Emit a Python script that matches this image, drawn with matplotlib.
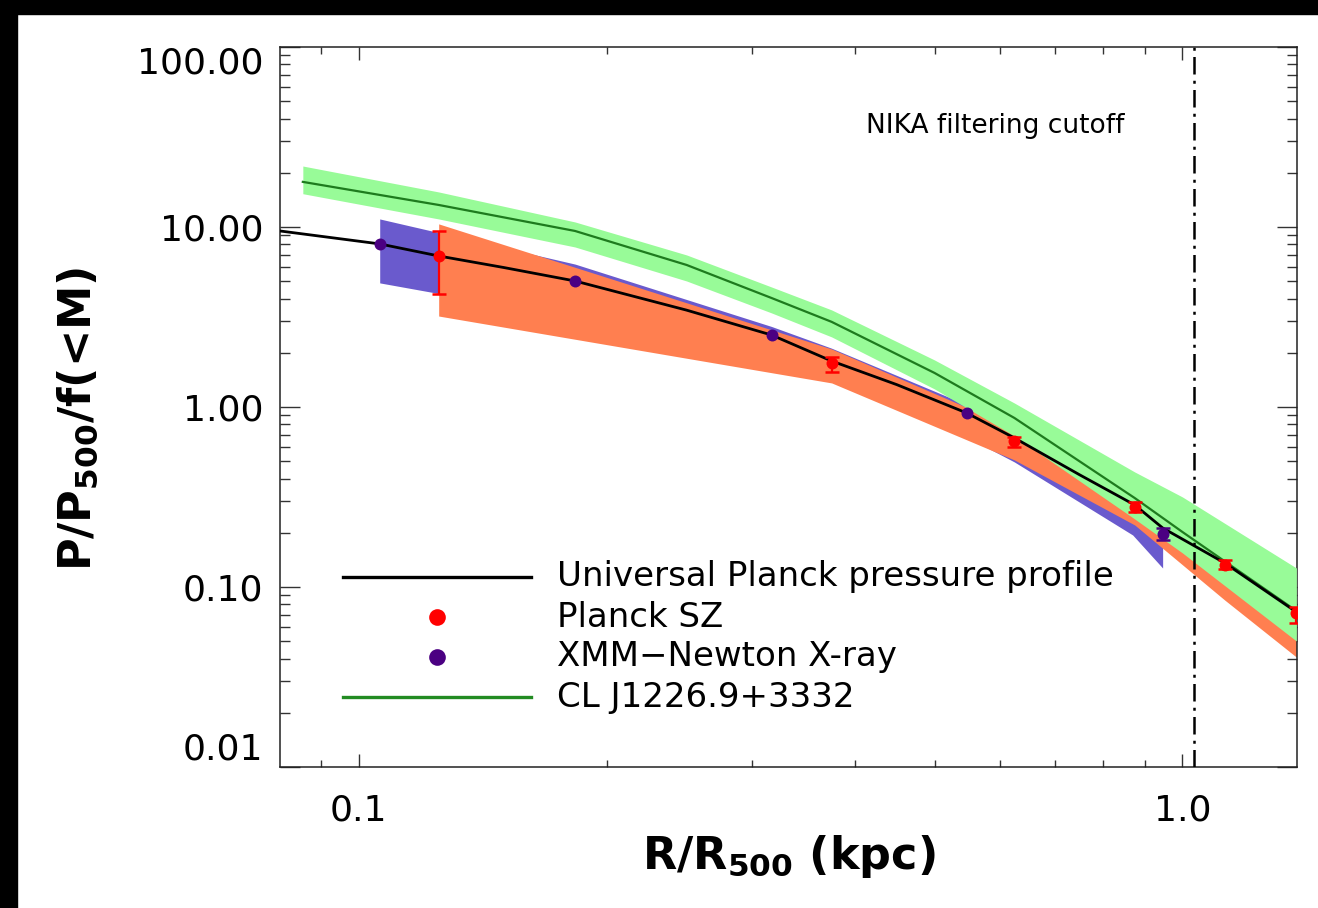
import matplotlib
matplotlib.use("Agg")
import matplotlib.pyplot as plt
import numpy as np
from matplotlib.patches import Rectangle
from matplotlib.ticker import FixedLocator, LogLocator, NullFormatter, FuncFormatter

plt.rcParams["font.family"] = ["DejaVu Sans"]

# universal Planck pressure profile (black curve)
model_r = [0.0802, 0.106, 0.125, 0.15, 0.183, 0.25, 0.317, 0.375, 0.45, 0.547, 0.625, 0.75, 0.875, 0.946, 1.125, 1.375]
model_p = [9.50, 8.05, 6.90, 5.95, 5.01, 3.45, 2.51, 1.80, 1.33, 0.926, 0.673, 0.42, 0.2855, 0.2128, 0.136, 0.0726]

# Planck SZ points + band
sz_r = [0.125, 0.375, 0.625, 0.875, 1.125, 1.375]
sz_p = [6.90, 1.756, 0.647, 0.278, 0.1325, 0.0717]
sz_lo = [4.24, 1.565, 0.599, 0.2595, 0.1254, 0.0632]
sz_hi = [9.50, 1.896, 0.679, 0.2976, 0.1413, 0.0774]
sz_band_hi = [10.4, 2.10, 0.764, 0.337, 0.1606, 0.0869]
sz_band_lo = [3.20, 1.36, 0.508, 0.221, 0.0847, 0.0408]

# XMM-Newton points + band
xmm_r = [0.106, 0.183, 0.317, 0.547, 0.946]
xmm_p = [8.05, 5.01, 2.51, 0.926, 0.197]
xmm_err = [np.nan, np.nan, np.nan, np.nan, 0.015]
xmm_band_r = [0.106, 0.183, 0.317, 0.375, 0.547, 0.625, 0.87, 0.946]
xmm_band_hi = [11.08, 6.22, 2.80, 2.12, 1.03, 0.745, 0.314, 0.2298]
xmm_band_lo = [4.89, 3.12, 1.647, 1.40, 0.681, 0.495, 0.1945, 0.1275]

# CL J1226.9+3332 profile + band
cl_r = [0.0855, 0.125, 0.183, 0.25, 0.317, 0.375, 0.5, 0.625, 0.875, 1.0, 1.375]
cl_p = [17.8, 13.25, 9.50, 6.15, 4.03, 2.97, 1.545, 0.869, 0.312, 0.202, 0.0736]
cl_hi = [21.8, 15.65, 10.66, 6.99, 4.64, 3.46, 1.824, 1.052, 0.4355, 0.3162, 0.1275]
cl_lo = [15.3, 11.08, 7.74, 5.01, 3.33, 2.45, 1.259, 0.690, 0.2386, 0.1545, 0.0501]

nika_cut = 1.034

fig = plt.figure(figsize=(13.18, 9.08), dpi=100)
ax = fig.add_axes([0.2124, 0.1553, 0.7716, 0.7930])

# black frame on top / left of the picture
fig.patches.append(Rectangle((0, 894 / 908), 1, 14 / 908, transform=fig.transFigure, color="k", zorder=0))
fig.patches.append(Rectangle((0, 0), 17 / 1318, 1, transform=fig.transFigure, color="k", zorder=0))

ax.fill_between(xmm_band_r, xmm_band_lo, xmm_band_hi, color="#6A5ACD", lw=0, zorder=1)
ax.fill_between(sz_r, sz_band_lo, sz_band_hi, color="#FF7F50", lw=0, zorder=2)
ax.fill_between(cl_r, cl_lo, cl_hi, color="#98FB98", lw=0, zorder=3)
ax.plot(cl_r, cl_p, color="#1E7B1E", lw=1.6, zorder=4)
ax.plot(model_r, model_p, color="k", lw=2.0, zorder=5)

sz_p = np.array(sz_p)
ax.errorbar(sz_r, sz_p, yerr=[sz_p - np.array(sz_lo), np.array(sz_hi) - sz_p],
            fmt="none", ecolor="red", elinewidth=1.6, capsize=4.7, capthick=1.8, zorder=6)
ax.plot(sz_r, sz_p, "o", color="red", ms=8.6, mec="none", zorder=7)
ax.errorbar(xmm_r, xmm_p, yerr=xmm_err, fmt="none", ecolor="#4B0082",
            elinewidth=1.6, capsize=4.7, capthick=1.8, zorder=6)
ax.plot(xmm_r, xmm_p, "o", color="#4B0082", ms=8.6, mec="none", zorder=7)

ax.axvline(nika_cut, color="k", lw=1.8, ls=(0, (7, 2.5, 1.2, 2.5)), zorder=8)
ax.text(0.576, 0.8806, "NIKA filtering cutoff", transform=ax.transAxes,
        fontsize=19, va="baseline", ha="left")

ax.set_xscale("log")
ax.set_yscale("log")
ax.set_xlim(0.0802, 1.377)
ax.set_ylim(0.01, 100)

ax.xaxis.set_major_locator(FixedLocator([0.1, 1.0]))
ax.xaxis.set_major_formatter(FuncFormatter(lambda v, p: "%.1f" % v))
ax.xaxis.set_minor_locator(LogLocator(base=10, subs=np.arange(2, 10)))
ax.xaxis.set_minor_formatter(NullFormatter())
ax.yaxis.set_major_locator(FixedLocator([0.01, 0.1, 1, 10, 100]))
ax.yaxis.set_major_formatter(FuncFormatter(lambda v, p: "%.2f" % v))
ax.yaxis.set_minor_locator(LogLocator(base=10, subs=np.arange(2, 10)))
ax.yaxis.set_minor_formatter(NullFormatter())

ax.tick_params(axis="both", which="both", direction="in", top=True, right=True,
               color="#333333", width=1.0)
ax.tick_params(axis="x", which="major", length=9.4, pad=19, labelsize=26)
ax.tick_params(axis="x", which="minor", length=5)
ax.tick_params(axis="y", which="major", length=14.4, pad=12, labelsize=26)
ax.tick_params(axis="y", which="minor", length=7.2)
for s in ax.spines.values():
    s.set_linewidth(1.1)
    s.set_color("#222222")

ylabels = ax.get_yticklabels()
ylabels[0].set_va("bottom")
ylabels[-1].set_va("top")

ax.set_xlabel(r"R/R$_\mathbf{500}$ (kpc)", fontsize=32, fontweight="bold")
ax.set_ylabel(r"P/P$_\mathbf{500}$/f(<M)", fontsize=32, fontweight="bold")
ax.xaxis.set_label_coords(0.5, -0.092)
ax.yaxis.set_label_coords(-0.177, 0.483)

# legend drawn by hand in axes coordinates
leg_y = [0.264, 0.208, 0.153, 0.097]
leg_txt = ["Universal Planck pressure profile", "Planck SZ", "XMM\u2212Newton X-ray", "CL J1226.9+3332"]
ax.plot([0.062, 0.247], [leg_y[0]] * 2, color="k", lw=2.4, transform=ax.transAxes, zorder=9)
ax.plot([0.154], [leg_y[1]], "o", color="red", ms=12, mec="none", transform=ax.transAxes, zorder=9)
ax.plot([0.154], [leg_y[2]], "o", color="#4B0082", ms=12, mec="none", transform=ax.transAxes, zorder=9)
ax.plot([0.062, 0.247], [leg_y[3]] * 2, color="#228B22", lw=2.4, transform=ax.transAxes, zorder=9)
for yy, t in zip(leg_y, leg_txt):
    ax.text(0.272, yy, t, transform=ax.transAxes, fontsize=24.5, va="center", ha="left", zorder=9)

fig.savefig("out.png", dpi=100)
